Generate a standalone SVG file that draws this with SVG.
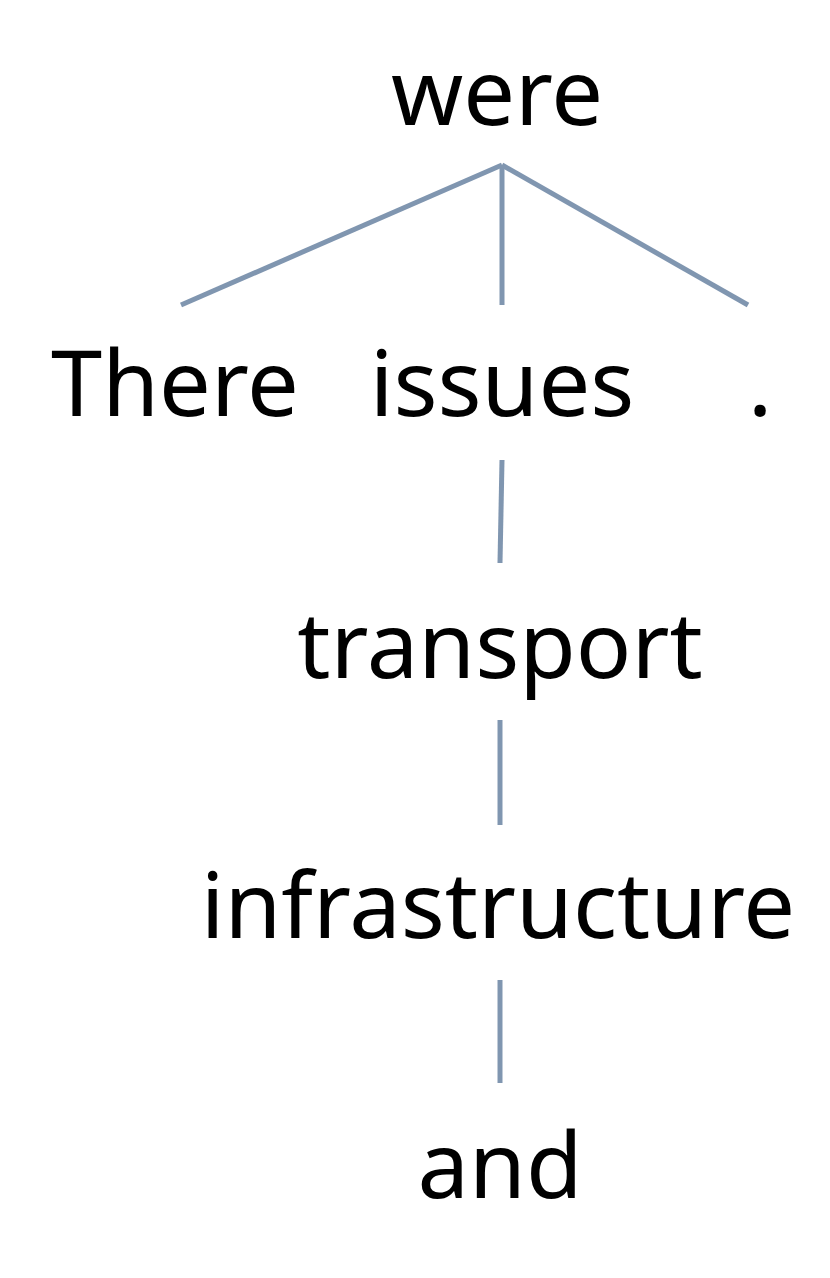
<svg xmlns="http://www.w3.org/2000/svg" width="830" height="1278" viewBox="0 0 830 1278">
<style>
text{font-family:"Noto Sans","DejaVu Sans",sans-serif;font-size:92px;fill:#000;text-anchor:middle}
line{stroke:#8096b0;stroke-width:5}
</style>
<rect width="830" height="1278" fill="#fff"/>
<g id="connectors">
<line x1="502" y1="165" x2="181" y2="305"/>
<line x1="502" y1="165" x2="502" y2="305"/>
<line x1="502" y1="165" x2="748" y2="305"/>
<line x1="502" y1="460" x2="500" y2="563"/>
<line x1="500" y1="720" x2="500" y2="825"/>
<line x1="500" y1="980" x2="500" y2="1083"/>
</g>
<g id="were"><text x="497" y="125">were</text></g>
<g id="There"><text x="175" y="416">There</text></g>
<g id="issues"><text x="502" y="416">issues</text></g>
<g id="dot"><text x="760" y="416">.</text></g>
<g id="transport"><text x="500" y="678">transport</text></g>
<g id="infrastructure"><text x="498" y="938">infrastructure</text></g>
<g id="and"><text x="500" y="1198">and</text></g>
</svg>
